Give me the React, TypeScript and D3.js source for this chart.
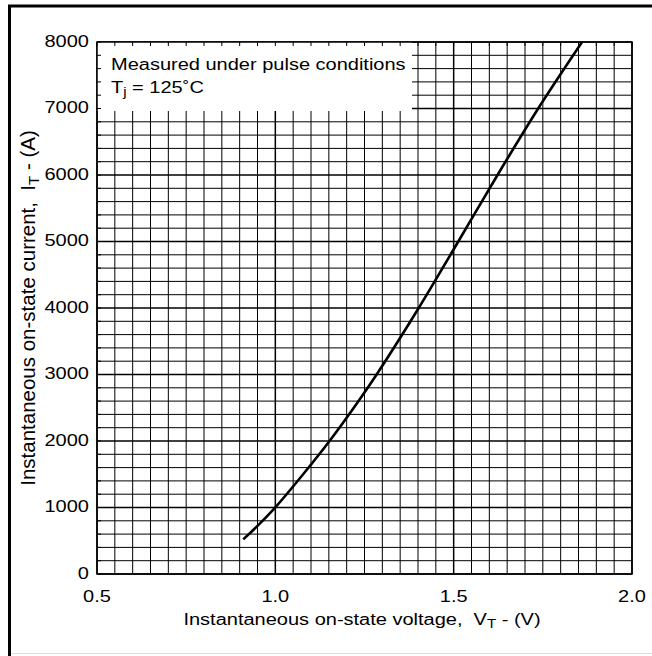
import React from "react";
import * as d3 from "d3";

const voltage = [0.91, 0.955, 0.998, 1.078, 1.152, 1.22, 1.284, 1.402, 1.513, 1.623, 1.737, 1.86];
const current = [520, 750, 990, 1500, 2000, 2500, 3000, 4000, 5000, 6000, 7000, 8000];
const xTickLabels = ["0.5", "1.0", "1.5", "2.0"];
const yTickLabels = ["0", "1000", "2000", "3000", "4000", "5000", "6000", "7000", "8000"];
const legendLines = ["Measured under pulse conditions"];

const W = 652, H = 656;
const L = 97, T = 42, PW = 535, PH = 532;

export default function App() {
  const x = d3.scaleLinear().domain([0.5, 2.0]).range([L, L + PW]);
  const y = d3.scaleLinear().domain([0, 8000]).range([T + PH, T]);
  const minorX = d3.range(0, 31).map((i) => 0.5 + i * 0.05);
  const minorY = d3.range(0, 41).map((i) => i * 200);
  const line = d3
    .line<number>()
    .x((_, i) => x(voltage[i]))
    .y((d) => y(d))
    .curve(d3.curveCatmullRom.alpha(0.5));
  const font = "Liberation Sans, Arial, Helvetica, sans-serif";
  const ht = (tx: number, ty: number) => `translate(${tx},${ty}) scale(1,0.8)`;
  const isMajorX = (v: number) => Math.abs(v * 2 - Math.round(v * 2)) < 1e-6;
  return (
    <svg width={W} height={H} style={{ position: "absolute", left: 0, top: 0 }} fontFamily={font}>
      <rect x={0} y={0} width={W} height={H} fill="#fff" />
      <rect x={9.5} y={6} width={700} height={700} fill="none" stroke="#000" strokeWidth={3} />
      <line x1={11} x2={W} y1={653.5} y2={653.5} stroke="#ddd" strokeWidth={1} />
      {minorX.map((v, i) => (
        <line key={"gx" + i} x1={x(v)} x2={x(v)} y1={T} y2={T + PH} stroke="#000" strokeWidth={isMajorX(v) ? 1.5 : 1} />
      ))}
      {minorY.map((v, i) => (
        <line key={"gy" + i} x1={L} x2={L + PW} y1={y(v)} y2={y(v)} stroke="#000" strokeWidth={v % 1000 === 0 ? 1.5 : 1} />
      ))}
      <rect x={L} y={T} width={315} height={69} fill="#fff" />
      {minorX.map((v, i) => (
        <line key={"tx" + i} x1={x(v)} x2={x(v)} y1={T} y2={T + 4} stroke="#000" strokeWidth={1} />
      ))}
      {minorY.map((v, i) => (
        <line key={"ty" + i} x1={L} x2={L + 4} y1={y(v)} y2={y(v)} stroke="#000" strokeWidth={1} />
      ))}
      <rect x={L} y={T} width={PW} height={PH} fill="none" stroke="#000" strokeWidth={1.5} />
      <path d={line(current) || ""} fill="none" stroke="#000" strokeWidth={2.6} />
      {xTickLabels.map((s, i) => (
        <text key={"xl" + i} transform={ht(x(+s), 601.5)} fontSize={20} textAnchor="middle">{s}</text>
      ))}
      {yTickLabels.map((s, i) => (
        <text key={"yl" + i} transform={ht(89, y(+s) + 4.8)} fontSize={20} textAnchor="end">{s}</text>
      ))}
      <text transform={ht(111, 70)} fontSize={20}>{legendLines[0]}</text>
      <text transform={ht(111, 93)} fontSize={20}>
        T<tspan fontSize={15} dy={4}>j</tspan><tspan dy={-4}> = 125˚C</tspan>
      </text>
      <text transform={ht(362, 625)} fontSize={20} textAnchor="middle">
        {"Instantaneous on-state voltage,\u00a0\u00a0V"}<tspan fontSize={15} dy={4}>T</tspan><tspan dy={-4}>{"\u00a0- (V)"}</tspan>
      </text>
      <text transform={`translate(35,${T + PH / 2}) rotate(-90)`} fontSize={20.5} textAnchor="middle">
        {"Instantaneous on-state current,\u00a0\u00a0I"}<tspan fontSize={15} dy={4}>T</tspan><tspan dy={-4}>{"\u00a0- (A)"}</tspan>
      </text>
    </svg>
  );
}
